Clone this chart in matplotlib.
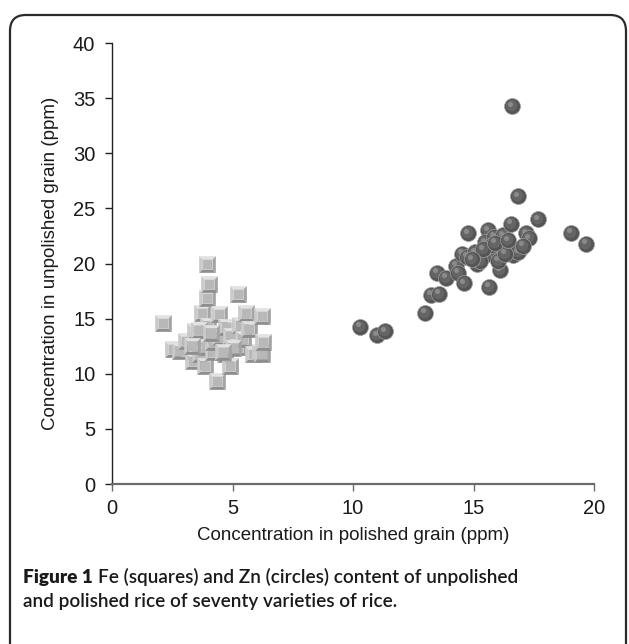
import numpy as np
import matplotlib
matplotlib.use("Agg")
import matplotlib.pyplot as plt
from matplotlib.path import Path
from matplotlib.patches import FancyBboxPatch
from matplotlib.transforms import offset_copy

# ---------- Data ----------
# Fe: squares, x = polished grain, y = unpolished grain (ppm)
fe_polished = [2.12, 2.53, 2.81, 3.09, 3.36, 3.43, 3.64, 3.64, 3.73, 3.87,
               3.90, 3.94, 3.94, 4.00, 4.02, 4.19, 4.21, 4.35, 4.42, 4.46,
               4.67, 4.74, 4.88, 4.95, 5.22, 5.23, 5.29, 5.45, 5.54, 5.70,
               5.84, 6.12, 6.22, 6.23, 6.25, 3.60, 4.10, 5.00, 4.60, 3.30]
fe_unpolished = [14.64, 12.24, 12.10, 13.00, 11.18, 13.90, 13.00, 11.79, 15.55, 10.67,
                 12.40, 20.00, 16.85, 14.36, 18.15, 11.94, 12.85, 9.36, 15.43, 13.30,
                 11.79, 14.20, 10.73, 13.45, 12.40, 17.24, 14.45, 13.15, 15.55, 14.06,
                 11.79, 11.94, 11.80, 15.24, 12.85, 14.00, 13.70, 12.30, 12.00, 12.50]

# Zn: circles
zn_polished = [10.29, 10.99, 11.32, 12.98, 13.25, 13.55, 13.50, 13.84, 14.28, 14.34,
               14.60, 14.77, 15.65, 16.09, 14.53, 14.73, 15.15, 15.62, 15.48, 15.85,
               16.21, 16.56, 17.17, 17.31, 16.93, 16.65, 15.55, 16.03, 16.30, 15.07,
               15.76, 15.27, 16.03, 16.86, 16.30, 16.61, 16.86, 17.66, 19.06, 19.65,
               15.40, 15.90, 16.45, 17.05, 14.95]
zn_unpolished = [14.25, 13.50, 13.85, 15.55, 17.18, 17.24, 19.18, 18.70, 19.80, 19.15,
                 18.20, 22.75, 17.90, 19.40, 20.90, 20.60, 19.97, 23.00, 21.94, 22.45,
                 22.55, 23.60, 22.75, 22.27, 21.33, 20.73, 20.88, 21.03, 21.64, 21.03,
                 21.64, 20.27, 20.27, 21.03, 20.88, 34.27, 26.10, 24.03, 22.79, 21.80,
                 21.30, 21.90, 22.10, 21.60, 20.40]

x_ticks = [0, 5, 10, 15, 20]
y_ticks = [0, 5, 10, 15, 20, 25, 30, 35, 40]

# ---------- Marker shapes ----------
def quad(pts):
    return Path(pts + [pts[0]], [Path.MOVETO] + [Path.LINETO] * (len(pts) - 1) + [Path.CLOSEPOLY])

o, i = 1.0, 0.62
bevel_top = quad([(-o, o), (o, o), (i, i), (-i, i)])
bevel_bot = quad([(-o, -o), (o, -o), (i, -i), (-i, -i)])
bevel_left = quad([(-o, o), (-i, i), (-i, -i), (-o, -o)])
bevel_right = quad([(o, o), (i, i), (i, -i), (o, -o)])
center_sq = quad([(-i, i), (i, i), (i, -i), (-i, -i)])
# pad so the inner square scales with the outer one
center_sq = Path(np.vstack([center_sq.vertices, [[-o, -o], [o, o]]]),
                 list(center_sq.codes) + [Path.MOVETO, Path.MOVETO])

plt.rcParams['font.family'] = ['Liberation Sans', 'DejaVu Sans']

fig = plt.figure(figsize=(6.29, 6.44), dpi=100)
ax = fig.add_axes([0.1781, 0.2484, 0.7663, 0.6848])

SQ = 12
z = 3
for xv, yv in zip(fe_polished, fe_unpolished):
    for shape, col in [(bevel_top, '#e2e2e2'), (bevel_left, '#cacaca'),
                       (bevel_right, '#a4a4a4'), (bevel_bot, '#8e8e8e'),
                       (center_sq, '#b8b8b8')]:
        ax.plot([xv], [yv], marker=shape, ms=SQ, mfc=col, mec='none',
                ls='none', zorder=z)
    z += 0.01

CI = 11.5
z = 5
hl1 = offset_copy(ax.transData, fig=fig, x=-1.0, y=1.0, units='dots')
hl2 = offset_copy(ax.transData, fig=fig, x=-2.0, y=2.5, units='dots')
for xv, yv in zip(zn_polished, zn_unpolished):
    ax.plot([xv], [yv], marker='o', ms=CI, mfc='#555555', mec='#a0a0a0',
            mew=0.5, ls='none', zorder=z)
    ax.plot([xv], [yv], marker='o', ms=CI * 0.72, mfc='#656565', mec='none',
            ls='none', zorder=z + 0.001, transform=hl1)
    ax.plot([xv], [yv], marker='o', ms=CI * 0.32, mfc='#8a8a8a', mec='none',
            ls='none', zorder=z + 0.002, transform=hl2)
    z += 0.01

ax.set_xlim(0, 20)
ax.set_ylim(0, 40)
ax.set_xticks(x_ticks)
ax.set_yticks(y_ticks)
ax.spines['top'].set_visible(False)
ax.spines['right'].set_visible(False)
ax.spines['left'].set_color('#222222')
ax.spines['left'].set_linewidth(1.0)
ax.spines['bottom'].set_color('#6a6a6a')
ax.spines['bottom'].set_linewidth(1.6)
ax.tick_params(axis='y', direction='out', length=5, width=1.0, color='#222222',
               labelsize=14.5, labelcolor='#1a1a1a', pad=7)
ax.tick_params(axis='x', direction='out', length=5, width=1.0, color='#6a6a6a',
               labelsize=14.5, labelcolor='#1a1a1a', pad=6)

ax.set_xlabel("Concentration in polished grain (ppm)", fontsize=13.5,
              color='#1a1a1a', labelpad=6)
ax.set_ylabel("Concentration in unpolished grain (ppm)", fontsize=13.5,
              color='#1a1a1a', labelpad=10)

# outer rounded frame
frame = FancyBboxPatch((10 / 629, -0.1), 616 / 629, 1 - 15 / 644 + 0.1,
                       boxstyle="round,pad=0,rounding_size=0.025",
                       transform=fig.transFigure, fill=False,
                       edgecolor='#2b2b2b', linewidth=1.6, clip_on=False)
fig.add_artist(frame)

# caption
cap_font = ['Lato', 'DejaVu Sans']
t1 = fig.text(23 / 629, 1 - 577 / 644, "Figure 1", fontsize=13.7,
              fontweight='heavy', family=cap_font, va='center', color='#1a1a1a')
fig.canvas.draw()
bb = t1.get_window_extent()
fig.text((bb.x1 + 5) / 629, 1 - 577 / 644,
         "Fe (squares) and Zn (circles) content of unpolished", fontsize=13.7,
         fontweight='semibold', family=cap_font, va='center', color='#1a1a1a')
fig.text(23 / 629, 1 - 602 / 644,
         "and polished rice of seventy varieties of rice.", fontsize=13.7,
         fontweight='semibold', family=cap_font, va='center', color='#1a1a1a')

fig.savefig("out.png", dpi=100)
